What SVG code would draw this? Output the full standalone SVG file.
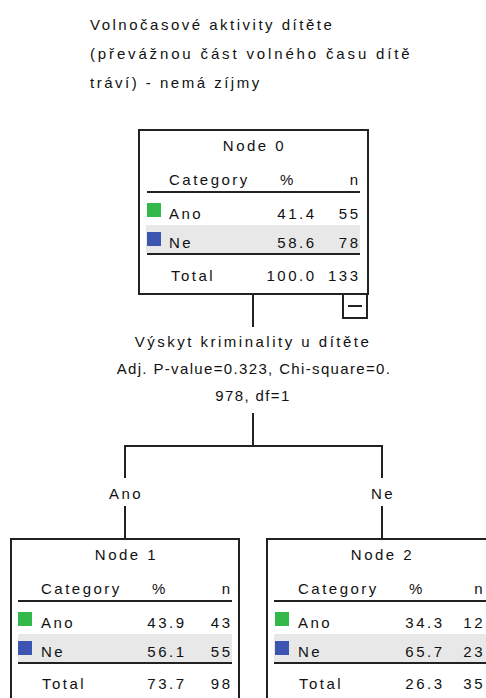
<svg xmlns="http://www.w3.org/2000/svg" width="486" height="698" viewBox="0 0 486 698">
<style>
text{font-family:"Liberation Sans",Arial,sans-serif;font-size:15px;fill:#111;letter-spacing:2.5px}
.m{text-anchor:middle}
.e{text-anchor:end}
.box{fill:#fff;stroke:#222;stroke-width:2}
.rule{stroke:#222;stroke-width:2}
.band{fill:#e8e8e8}
.g{fill:#33b84a}
.b{fill:#3c55b0}
.conn line{stroke:#222;stroke-width:2}
</style>
<rect width="486" height="698" fill="#fff"/>
<g id="title">
<text x="90" y="30">Volnočasové aktivity dítěte</text>
<text x="90" y="59" style="letter-spacing:2.85px">(převážnou část volného času dítě</text>
<text x="90" y="88">tráví) - nemá zíjmy</text>
</g>
<g id="connectors" class="conn">
<line x1="253" y1="294" x2="253" y2="327"/>
<line x1="253" y1="413" x2="253" y2="446"/>
<line x1="124" y1="446" x2="383" y2="446"/>
<line x1="125" y1="446" x2="125" y2="478"/>
<line x1="382" y1="446" x2="382" y2="478"/>
<line x1="125" y1="506" x2="125" y2="539"/>
<line x1="382" y1="506" x2="382" y2="539"/>
</g>
<g id="split-label">
<text class="m" x="253" y="347">Výskyt kriminality u dítěte</text>
<text class="m" x="254" y="374" style="letter-spacing:1.35px">Adj. P-value=0.323, Chi-square=0.</text>
<text class="m" x="253" y="401" style="letter-spacing:1.4px">978, df=1</text>
</g>
<g id="edge-labels">
<text class="m" x="126" y="499">Ano</text>
<text class="m" x="383" y="499">Ne</text>
</g>
<g id="node0" transform="translate(139,130)">
<rect class="box" x="0" y="0" width="229" height="164"/>
<text class="m" x="115.5" y="21">Node 0</text>
<text x="30" y="55">Category</text>
<text class="m" x="149" y="55">%</text>
<text class="e" x="221.5" y="55">n</text>
<line class="rule" x1="8" y1="62" x2="221" y2="62"/>
<rect class="band" x="7" y="95" width="214" height="28"/>
<rect class="g" x="8" y="73" width="14" height="14"/>
<text x="30" y="89">Ano</text>
<text class="e" x="177.5" y="89">41.4</text>
<text class="e" x="221.5" y="89">55</text>
<rect class="b" x="8" y="102" width="14" height="14"/>
<text x="30" y="118">Ne</text>
<text class="e" x="177.5" y="118">58.6</text>
<text class="e" x="221.5" y="118">78</text>
<line class="rule" x1="8" y1="124" x2="221" y2="124"/>
<text x="32" y="151">Total</text>
<text class="e" x="177.5" y="151">100.0</text>
<text class="e" x="221.5" y="151">133</text>
<rect class="box" x="204" y="164" width="24" height="24"/>
<line class="rule" x1="209" y1="176" x2="223" y2="176"/>
</g>
<g id="node1" transform="translate(11,539)">
<rect class="box" x="0" y="0" width="228" height="164"/>
<text class="m" x="115.5" y="21">Node 1</text>
<text x="30" y="55">Category</text>
<text class="m" x="149" y="55">%</text>
<text class="e" x="221.5" y="55">n</text>
<line class="rule" x1="7" y1="62" x2="221" y2="62"/>
<rect class="band" x="7" y="95" width="214" height="28"/>
<rect class="g" x="7" y="73" width="14" height="14"/>
<text x="30" y="89">Ano</text>
<text class="e" x="175.5" y="89">43.9</text>
<text class="e" x="221.5" y="89">43</text>
<rect class="b" x="7" y="102" width="14" height="14"/>
<text x="30" y="118">Ne</text>
<text class="e" x="175.5" y="118">56.1</text>
<text class="e" x="221.5" y="118">55</text>
<line class="rule" x1="7" y1="124" x2="221" y2="124"/>
<text x="31" y="150">Total</text>
<text class="e" x="175.5" y="150">73.7</text>
<text class="e" x="221.5" y="150">98</text>
</g>
<g id="node2" transform="translate(267,539)">
<rect class="box" x="0" y="0" width="228" height="164"/>
<text class="m" x="115.5" y="21">Node 2</text>
<text x="31" y="55">Category</text>
<text class="m" x="150" y="55">%</text>
<text class="e" x="218" y="55">n</text>
<line class="rule" x1="7" y1="62" x2="221" y2="62"/>
<rect class="band" x="7" y="95" width="214" height="28"/>
<rect class="g" x="8" y="73" width="14" height="14"/>
<text x="31" y="89">Ano</text>
<text class="e" x="177.5" y="89">34.3</text>
<text class="e" x="218" y="89">12</text>
<rect class="b" x="8" y="102" width="14" height="14"/>
<text x="31" y="118">Ne</text>
<text class="e" x="177.5" y="118">65.7</text>
<text class="e" x="218" y="118">23</text>
<line class="rule" x1="7" y1="124" x2="221" y2="124"/>
<text x="32" y="150">Total</text>
<text class="e" x="177.5" y="150">26.3</text>
<text class="e" x="218" y="150">35</text>
</g>
</svg>
